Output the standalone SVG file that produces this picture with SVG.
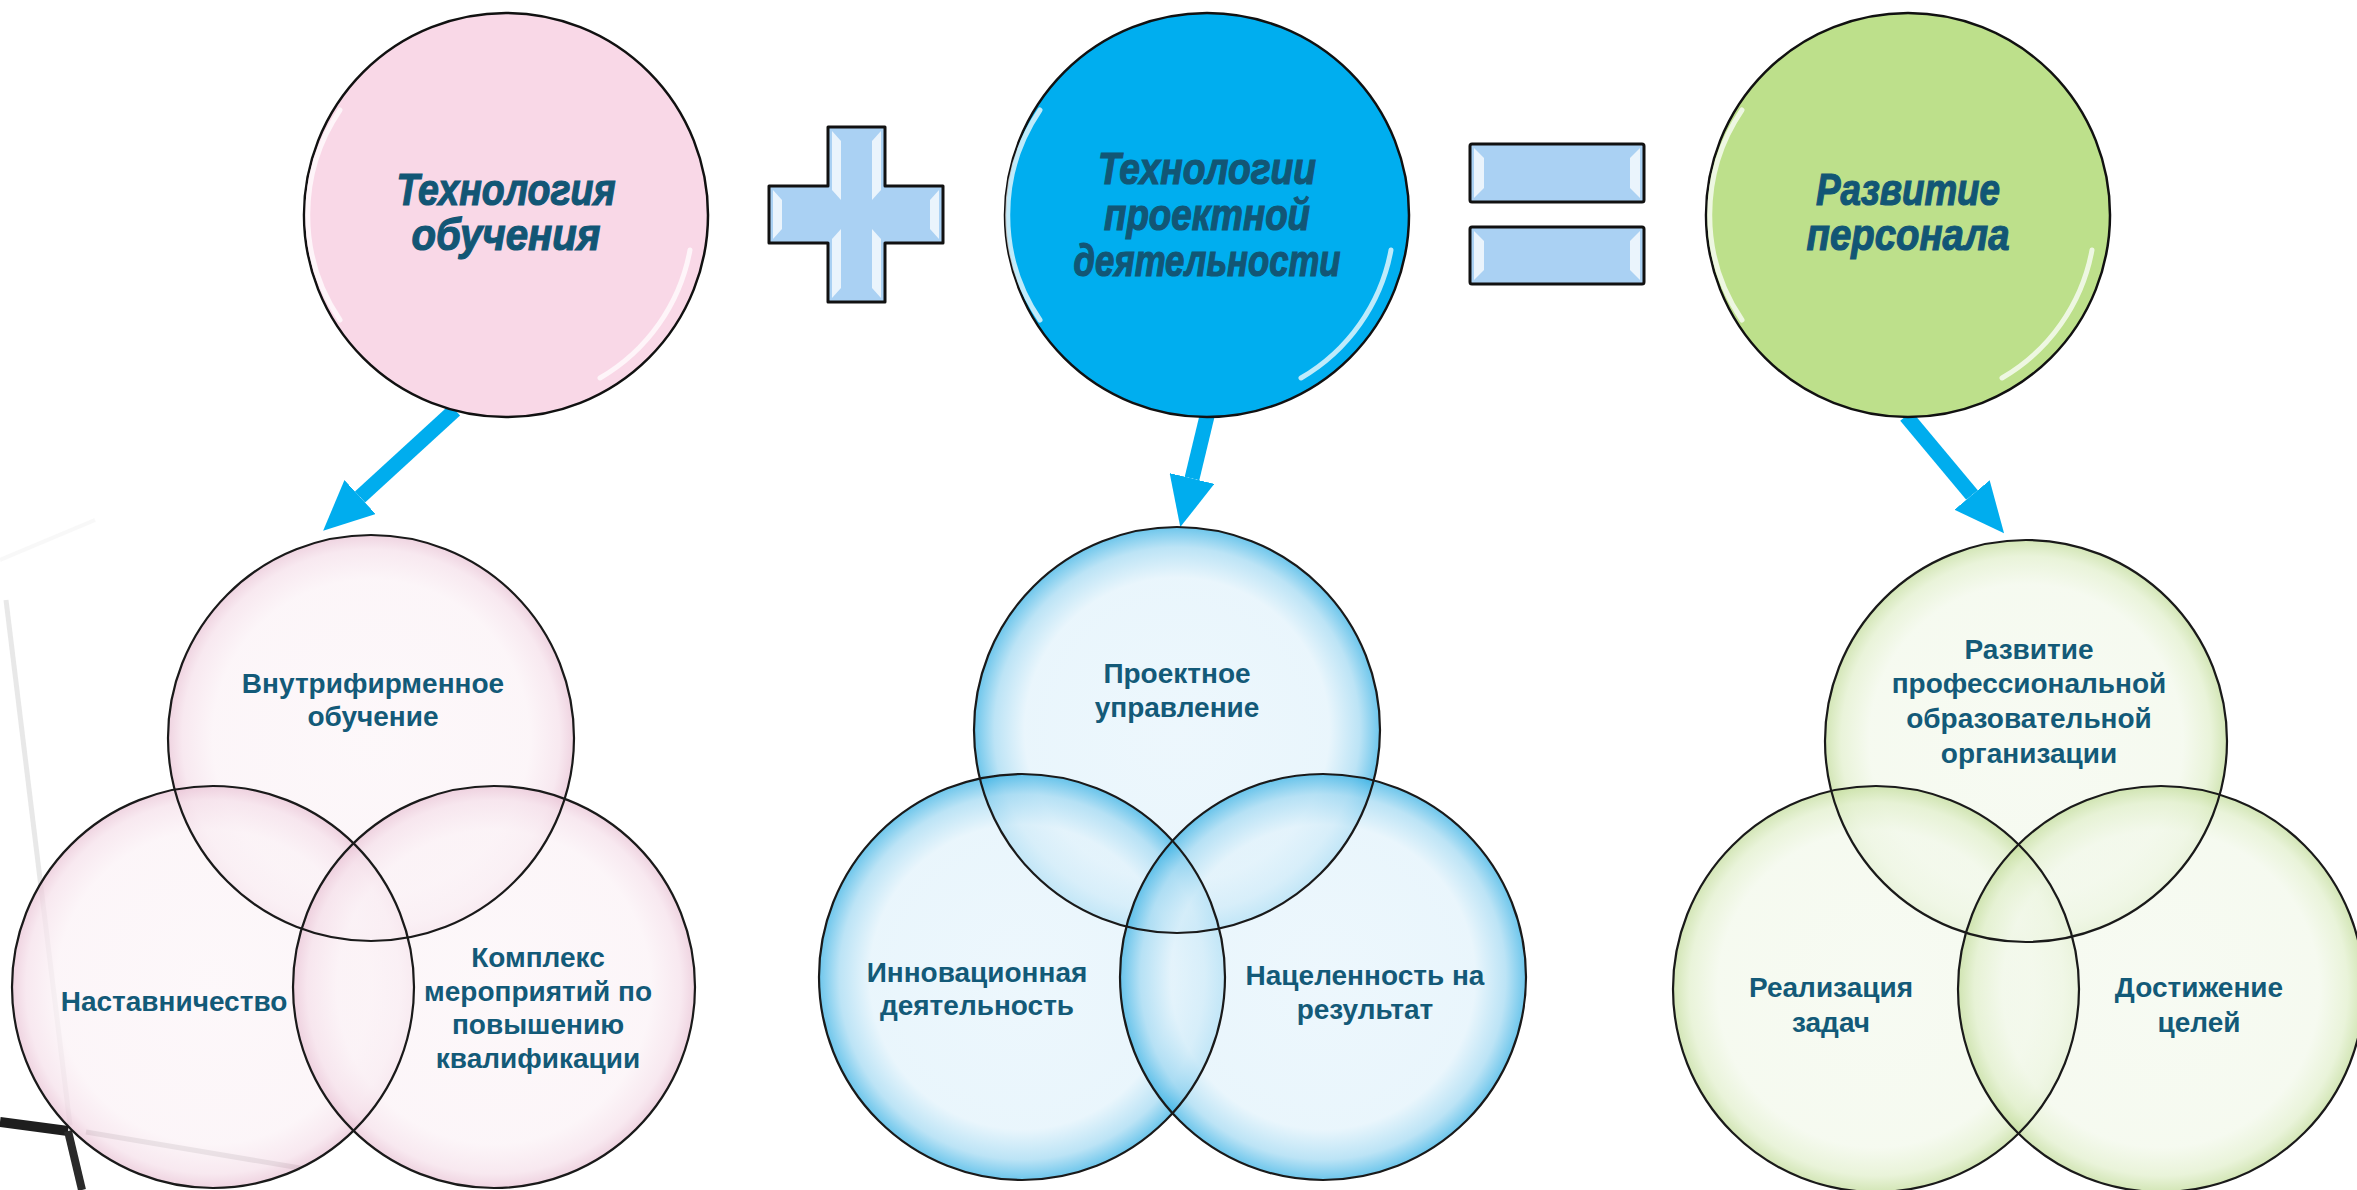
<svg xmlns="http://www.w3.org/2000/svg" width="2357" height="1190" viewBox="0 0 2357 1190">
<style>
.title{font-family:"Liberation Sans",Arial,sans-serif;font-weight:bold;font-style:italic;font-size:44px;fill:#125675;stroke:#125675;stroke-width:1.2;text-anchor:middle}
.lbl{font-family:"Liberation Sans",Arial,sans-serif;font-weight:bold;font-size:28px;fill:#135a78;text-anchor:middle}
.big{stroke:#111;stroke-width:2.5}
.ven{stroke:none;fill-opacity:0.72}
.out{fill:none;stroke:#1a1a1a;stroke-width:2.2}
.hl{fill:none;stroke:#fff;stroke-width:5;stroke-linecap:round;opacity:0.75}
.sym{fill:#AAD1F3;stroke:#111;stroke-width:3;stroke-linejoin:round}
.bev{fill:#fff;opacity:0.75}
.arr{stroke:#00ADEE;stroke-width:15;fill:none}
</style>
<defs>
<marker id="ah" markerUnits="userSpaceOnUse" markerWidth="50" markerHeight="46" refX="0" refY="23" orient="auto" viewBox="0 0 50 46">
<path d="M0,0 L50,23 L0,46 Z" fill="#00ADEE"/>
</marker>
<radialGradient id="gp" cx="0.5" cy="0.5" r="0.5">
<stop offset="0" stop-color="#FCF5F8"/>
<stop offset="0.78" stop-color="#FBF2F6"/>
<stop offset="0.93" stop-color="#F5E0EA"/>
<stop offset="1" stop-color="#E9C3D5"/>
</radialGradient>
<radialGradient id="gb" cx="0.5" cy="0.5" r="0.5">
<stop offset="0" stop-color="#E6F4FC"/>
<stop offset="0.75" stop-color="#E1F2FB"/>
<stop offset="0.9" stop-color="#A2D9F2"/>
<stop offset="1" stop-color="#35B0E4"/>
</radialGradient>
<radialGradient id="gg" cx="0.5" cy="0.5" r="0.5">
<stop offset="0" stop-color="#F4F9EE"/>
<stop offset="0.78" stop-color="#F2F8EA"/>
<stop offset="0.92" stop-color="#E1EFCB"/>
<stop offset="1" stop-color="#C2DC9A"/>
</radialGradient>
</defs>
<rect width="2357" height="1190" fill="#fff"/>
<g id="background" fill="none">
<line x1="6" y1="600" x2="70" y2="1125" stroke="#d8d8d8" stroke-width="5" opacity="0.6"/>
<line x1="0" y1="560" x2="95" y2="520" stroke="#f2f2f2" stroke-width="4" opacity="0.5"/>
<line x1="0" y1="1122" x2="68" y2="1131" stroke="#1e1e1e" stroke-width="10"/>
<line x1="68" y1="1131" x2="82" y2="1190" stroke="#2a2a2a" stroke-width="8"/>
<line x1="86" y1="1132" x2="300" y2="1168" stroke="#9a9a9a" stroke-width="5" opacity="0.6"/>
</g>
<g id="connectors">
<line class="arr" x1="455" y1="410" x2="360" y2="497" marker-end="url(#ah)"/>
<line class="arr" x1="1208" y1="412" x2="1192" y2="478.5" marker-end="url(#ah)"/>
<line class="arr" x1="1906" y1="416" x2="1972" y2="495" marker-end="url(#ah)"/>
</g>
<g id="node-tech-learning">
<circle class="big" cx="506" cy="215" r="202" fill="#F9D8E7"/>
<path class="hl" d="M340,110 A187,187 0 0 0 340,320"/>
<path class="hl" d="M690,250 A187,187 0 0 1 600,378"/>
<text class="title" x="506" y="205" textLength="219" lengthAdjust="spacingAndGlyphs">Технология</text>
<text class="title" x="506" y="250" textLength="189" lengthAdjust="spacingAndGlyphs">обучения</text>
</g>
<g id="op-plus">
<path class="sym" d="M828,127 H885 V186 H943 V243 H885 V302 H828 V243 H769 V186 H828 Z"/>
<polygon class="bev" points="832,131 841,141 841,200 832,190"/>
<polygon class="bev" points="881,131 872,141 872,200 881,190"/>
<polygon class="bev" points="832,298 841,288 841,229 832,239"/>
<polygon class="bev" points="881,298 872,288 872,229 881,239"/>
<polygon class="bev" points="773,190 782,200 782,229 773,239"/>
<polygon class="bev" points="939,190 930,200 930,229 939,239"/>
</g>
<g id="node-tech-project">
<circle class="big" cx="1207" cy="215" r="202" fill="#00AEEF"/>
<path class="hl" d="M1040,110 A187,187 0 0 0 1040,320" stroke="#7fd6f7"/>
<path class="hl" d="M1391,250 A187,187 0 0 1 1301,378"/>
<text class="title" x="1207" y="184" textLength="218" lengthAdjust="spacingAndGlyphs">Технологии</text>
<text class="title" x="1207" y="230" textLength="206" lengthAdjust="spacingAndGlyphs">проектной</text>
<text class="title" x="1207" y="276" textLength="267" lengthAdjust="spacingAndGlyphs">деятельности</text>
</g>
<g id="op-equals">
<rect class="sym" x="1470" y="144" width="174" height="58" rx="2"/>
<rect class="sym" x="1470" y="227" width="174" height="57" rx="2"/>
<polygon class="bev" points="1474,148 1484,158 1484,188 1474,198"/>
<polygon class="bev" points="1640,148 1630,158 1630,188 1640,198"/>
<polygon class="bev" points="1474,231 1484,241 1484,270 1474,280"/>
<polygon class="bev" points="1640,231 1630,241 1630,270 1640,280"/>
</g>
<g id="node-staff-dev">
<circle class="big" cx="1908" cy="215" r="202" fill="#BDE08B"/>
<path class="hl" d="M1742,110 A187,187 0 0 0 1742,320"/>
<path class="hl" d="M2092,250 A187,187 0 0 1 2002,378"/>
<text class="title" x="1908" y="205" textLength="184" lengthAdjust="spacingAndGlyphs">Развитие</text>
<text class="title" x="1908" y="250" textLength="203" lengthAdjust="spacingAndGlyphs">персонала</text>
</g>
<g id="venn-pink">
<g id="node-vnutri">
<circle class="ven" cx="371" cy="738" r="203" fill="url(#gp)"/>
</g>
<g id="node-nastav">
<circle class="ven" cx="213" cy="987" r="201" fill="url(#gp)"/>
</g>
<g id="node-kompleks">
<circle class="ven" cx="494" cy="987" r="201" fill="url(#gp)"/>
</g>
<circle class="out" cx="371" cy="738" r="203"/>
<circle class="out" cx="213" cy="987" r="201"/>
<circle class="out" cx="494" cy="987" r="201"/>
<text class="lbl" x="373" y="693">Внутрифирменное</text>
<text class="lbl" x="373" y="726">обучение</text>
<text class="lbl" x="174" y="1011">Наставничество</text>
<text class="lbl" x="538" y="967">Комплекс</text>
<text class="lbl" x="538" y="1001">мероприятий по</text>
<text class="lbl" x="538" y="1034">повышению</text>
<text class="lbl" x="538" y="1068">квалификации</text>
</g>
<g id="venn-blue">
<g id="node-proekt">
<circle class="ven" cx="1177" cy="730" r="203" fill="url(#gb)"/>
</g>
<g id="node-innov">
<circle class="ven" cx="1022" cy="977" r="203" fill="url(#gb)"/>
</g>
<g id="node-result">
<circle class="ven" cx="1323" cy="977" r="203" fill="url(#gb)"/>
</g>
<circle class="out" cx="1177" cy="730" r="203"/>
<circle class="out" cx="1022" cy="977" r="203"/>
<circle class="out" cx="1323" cy="977" r="203"/>
<text class="lbl" x="1177" y="683">Проектное</text>
<text class="lbl" x="1177" y="717">управление</text>
<text class="lbl" x="977" y="982">Инновационная</text>
<text class="lbl" x="977" y="1015">деятельность</text>
<text class="lbl" x="1365" y="985">Нацеленность на</text>
<text class="lbl" x="1365" y="1019">результат</text>
</g>
<g id="venn-green">
<g id="node-razv-org">
<circle class="ven" cx="2026" cy="741" r="201" fill="url(#gg)"/>
</g>
<g id="node-real">
<circle class="ven" cx="1876" cy="989" r="203" fill="url(#gg)"/>
</g>
<g id="node-dost">
<circle class="ven" cx="2161" cy="989" r="203" fill="url(#gg)"/>
</g>
<circle class="out" cx="2026" cy="741" r="201"/>
<circle class="out" cx="1876" cy="989" r="203"/>
<circle class="out" cx="2161" cy="989" r="203"/>
<text class="lbl" x="2029" y="659">Развитие</text>
<text class="lbl" x="2029" y="693">профессиональной</text>
<text class="lbl" x="2029" y="728">образовательной</text>
<text class="lbl" x="2029" y="763">организации</text>
<text class="lbl" x="1831" y="997">Реализация</text>
<text class="lbl" x="1831" y="1032">задач</text>
<text class="lbl" x="2199" y="997">Достижение</text>
<text class="lbl" x="2199" y="1032">целей</text>
</g>
</svg>
